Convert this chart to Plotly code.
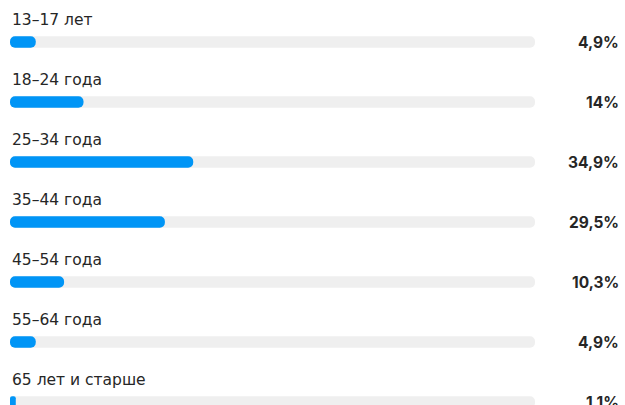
import plotly.graph_objects as go

categories = ["13–17 лет", "18–24 года", "25–34 года", "35–44 года",
              "45–54 года", "55–64 года", "65 лет и старше"]
values = [4.9, 14, 34.9, 29.5, 10.3, 4.9, 1.1]
value_labels = [f"{v:g}".replace(".", ",") + "%" for v in values]

W, H = 625, 405
idx = list(range(len(categories)))
full = [100] * len(values)

fig = go.Figure()


def rounded_bar(vals, color):
    fig.add_trace(go.Bar(
        x=vals, base=[0] * len(vals), y=idx, orientation="h",
        width=0.19,
        marker=dict(color=color, cornerradius=6, line=dict(width=0)),
        hoverinfo="skip", showlegend=False,
    ))


rounded_bar(full, "#EFEFEF")
rounded_bar(values, "#0095F6")

for i, (c, t) in enumerate(zip(categories, value_labels)):
    fig.add_annotation(x=10 / W, xref="paper", y=i - 0.36, yref="y",
                       text=c, showarrow=False, xanchor="left", yanchor="middle",
                       font=dict(family="DejaVu Sans", size=15.5, color="#262626"))
    fig.add_annotation(x=621 / W, xref="paper", y=i, yref="y",
                       text=t, showarrow=False, xanchor="right", yanchor="middle",
                       font=dict(family="Inter", size=15.5, color="#262626", weight="bold"))

fig.update_layout(
    width=W, height=H,
    margin=dict(l=0, r=0, t=0, b=0),
    paper_bgcolor="white", plot_bgcolor="white",
    barmode="overlay",
    xaxis=dict(domain=[10 / W, 535 / W], range=[0, 100], visible=False, fixedrange=True),
    yaxis=dict(range=[(H - 42) / 60, -42 / 60], visible=False, fixedrange=True),
)

fig.write_html("out.html")
